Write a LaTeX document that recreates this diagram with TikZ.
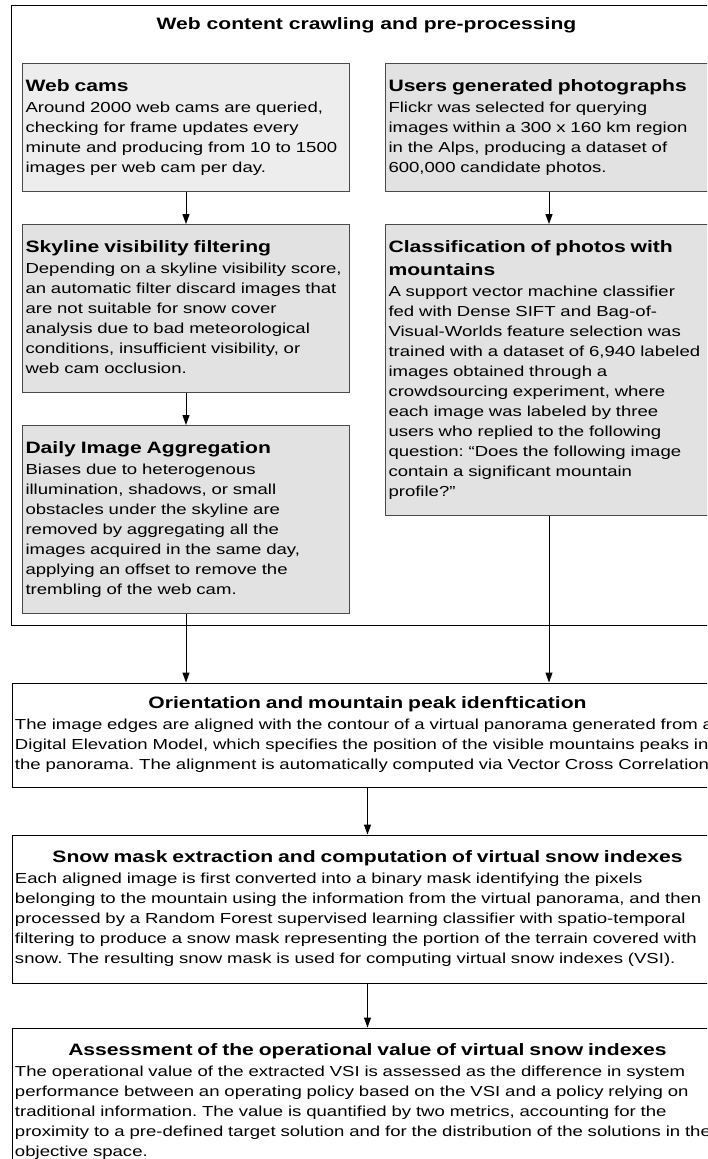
\documentclass[tikz,border=0pt]{standalone}
\usepackage{fontspec}
\setmainfont{Liberation Sans}[FakeStretch=1.28]
\usetikzlibrary{positioning,fit,arrows.meta}

\definecolor{boxline}{HTML}{4A4A4A}
\definecolor{camfill}{HTML}{EDEDED}
\definecolor{stepfill}{HTML}{E2E2E2}

\newcommand{\titlefont}{\fontsize{16.5}{23}\selectfont\bfseries}
\newcommand{\bodyfont}{\fontsize{14.5}{20}\selectfont\frenchspacing}

\tikzset{
  colbox/.style={draw=boxline, fill=stepfill, text width=321pt, align=left,
    inner xsep=3pt, inner ysep=0pt, font=\bodyfont},
  widebox/.style={draw=black, fill=white, text width=705pt, align=left,
    inner xsep=3pt, inner ysep=0pt, font=\bodyfont},
}

\begin{document}
\begin{tikzpicture}[x=1pt, y=1pt, line width=1pt, node distance=32pt and 35pt,
    >={Triangle[length=10pt,width=7pt]}]

        \clip (0,0) rectangle (707,-1159);

        % Left column (web cams)
        \node[colbox, fill=camfill, minimum height=128pt, anchor=north west] (webcams) at (22,-63) {%
          \begin{tabular}{@{}l@{}}
          {\titlefont Web cams}\\[1pt]
          Around 2000 web cams are queried,\\
          checking for frame updates every\\
          minute and producing from 10 to 1500\\
          images per web cam per day.
          \end{tabular}};
        \node[colbox, minimum height=168pt, below=of webcams] (skyline) {%
          \begin{tabular}{@{}l@{}}
          {\titlefont Skyline visibility filtering}\\[1pt]
          Depending on a skyline visibility score,\\
          an automatic filter discard images that\\
          are not suitable for snow cover\\
          analysis due to bad meteorological\\
          conditions, insufficient visibility, or\\
          web cam occlusion.
          \end{tabular}};
        \node[colbox, minimum height=188pt, below=of skyline] (daily) {%
          \begin{tabular}{@{}l@{}}
          {\titlefont Daily Image Aggregation}\\[1pt]
          Biases due to heterogenous\\
          illumination, shadows, or small\\
          obstacles under the skyline are\\
          removed by aggregating all the\\
          images acquired in the same day,\\
          applying an offset to remove the\\
          trembling of the web cam.
          \end{tabular}};

        % Right column (photographs)
        \node[colbox, minimum height=128pt, right=of webcams] (users) {%
          \begin{tabular}{@{}l@{}}
          {\titlefont Users generated photographs}\\[1pt]
          Flickr was selected for querying\\
          images within a 300 x 160 km region\\
          in the Alps, producing a dataset of\\
          600,000 candidate photos.
          \end{tabular}};
        \node[colbox, minimum height=291pt, below=of users] (classif) {%
          \begin{tabular}{@{}l@{}}
          {\titlefont Classification of photos with}\\[3pt]
          {\titlefont mountains}\\[1pt]
          A support vector machine classifier\\
          fed with Dense SIFT and Bag-of-\\
          Visual-Worlds feature selection was\\
          trained with a dataset of 6,940 labeled\\
          images obtained through a\\
          crowdsourcing experiment, where\\
          each image was labeled by three\\
          users who replied to the following\\
          question: “Does the following image\\
          contain a significant mountain\\
          profile?”
          \end{tabular}};

        % Frame round the crawling stage
        \node[font=\titlefont, inner sep=0pt] (crawltitle) at (366.5,-25) {Web content crawling and pre-processing};
        \node[draw, inner sep=11pt, fit=(crawltitle)(webcams)(users)(skyline)(daily)(classif)] (crawling) {};

        % Processing chain
        \node[widebox, minimum height=104pt, below=57pt of crawling] (orient) {%
          \begin{tabular}{@{}l@{}}
          \makebox[705pt]{\titlefont Orientation and mountain peak idenftication}\\[1pt]
          The image edges are aligned with the contour of a virtual panorama generated from a\\
          Digital Elevation Model, which specifies the position of the visible mountains peaks in\\
          the panorama. The alignment is automatically computed via Vector Cross Correlation.
          \end{tabular}};
        \node[widebox, minimum height=148pt, below=47pt of orient] (snow) {%
          \begin{tabular}{@{}l@{}}
          \makebox[705pt]{\titlefont Snow mask extraction and computation of virtual snow indexes}\\[1pt]
          Each aligned image is first converted into a binary mask identifying the pixels\\
          belonging to the mountain using the information from the virtual panorama, and then\\
          processed by a Random Forest supervised learning classifier with spatio-temporal\\
          filtering to produce a snow mask representing the portion of the terrain covered with\\
          snow. The resulting snow mask is used for computing virtual snow indexes (VSI).
          \end{tabular}};
        \node[widebox, minimum height=148pt, below=44pt of snow] (assess) {%
          \begin{tabular}{@{}l@{}}
          \makebox[705pt]{\titlefont Assessment of the operational value of virtual snow indexes}\\[1pt]
          The operational value of the extracted VSI is assessed as the difference in system\\
          performance between an operating policy based on the VSI and a policy relying on\\
          traditional information. The value is quantified by two metrics, accounting for the\\
          proximity to a pre-defined target solution and for the distribution of the solutions in the\\
          objective space.
          \end{tabular}};

        % Column arrows
        \draw[->] (webcams) -- (skyline);
        \draw[->] (skyline) -- (daily);
        \draw[->] (users) -- (classif);

        % Into the processing chain
        \draw[->] (daily.south) -- (daily.south |- orient.north);
        \draw[->] (classif.south) -- (classif.south |- orient.north);
        \draw[->] (orient) -- (snow);
        \draw[->] (snow) -- (assess);

\end{tikzpicture}
\end{document}
